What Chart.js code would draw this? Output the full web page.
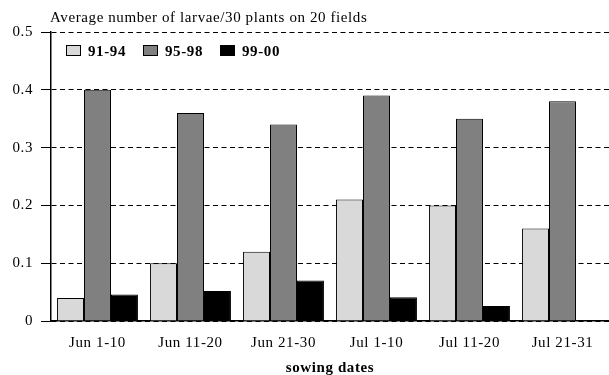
<!DOCTYPE html>
<html>
<head>
<meta charset="utf-8">
<script src="https://cdn.jsdelivr.net/npm/chart.js@4.4.1/dist/chart.umd.min.js"></script>
<style>
  html, body { margin: 0; padding: 0; background: #fff; }
  #wrap { width: 609px; height: 375px; position: relative; }
</style>
</head>
<body>
<div id="wrap"><canvas id="c" width="609" height="375"></canvas></div>
<script>
// Sowing date windows
const categories = ['Jun 1-10', 'Jun 11-20', 'Jun 21-30', 'Jul 1-10', 'Jul 11-20', 'Jul 21-31'];
// Average number of larvae per 30 plants, by period of years
const seriesNames = ['91-94', '95-98', '99-00'];
const values9194 = [0.04, 0.10, 0.12, 0.21, 0.20, 0.16];
const values9598 = [0.40, 0.36, 0.34, 0.39, 0.35, 0.38];
const values9900 = [0.046, 0.052, 0.070, 0.041, 0.026, 0];
const yTicks = [0, 0.1, 0.2, 0.3, 0.4, 0.5];

const chartTitle = 'Average number of larvae/30 plants on 20 fields';
const xTitle = 'sowing dates';
const seriesColors = ['#d9d9d9', '#808080', '#000000'];
const serif = "'Liberation Serif', 'DejaVu Serif', serif";

// Slightly wider text spacing for every label on the canvas
const spacingPlugin = {
  id: 'spacing',
  beforeDraw(chart) { chart.ctx.letterSpacing = '0.6px'; }
};

// Title line and inline legend drawn in the top-left corner
const headerPlugin = {
  id: 'header',
  afterDraw(chart) {
    const ctx = chart.ctx;
    const area = chart.chartArea;
    ctx.save();
    ctx.letterSpacing = '0.6px';
    ctx.fillStyle = '#000';
    ctx.font = '15px ' + serif;
    ctx.textBaseline = 'alphabetic';
    ctx.textAlign = 'left';
    ctx.fillText(chartTitle, area.left - 1, 22);

    ctx.font = 'bold 15px ' + serif;
    let x = area.left + 15;
    const boxY = area.top + 13;
    chart.data.datasets.forEach((ds) => {
      ctx.fillStyle = ds.backgroundColor;
      ctx.fillRect(x + 0.5, boxY + 0.5, 14, 10);
      ctx.strokeStyle = '#000';
      ctx.lineWidth = 1;
      ctx.strokeRect(x + 0.5, boxY + 0.5, 14, 10);
      ctx.fillStyle = '#000';
      ctx.fillText(ds.label, x + 22, boxY + 11);
      x += 22 + ctx.measureText(ds.label).width + 17;
    });
    ctx.restore();
  }
};

const datasets = [values9194, values9598, values9900].map((vals, i) => ({
  label: seriesNames[i],
  data: vals,
  backgroundColor: seriesColors[i],
  borderColor: '#000',
  borderWidth: 1,
  borderSkipped: 'bottom',
  barPercentage: 1.0,
  categoryPercentage: 0.87
}));

new Chart(document.getElementById('c'), {
  type: 'bar',
  data: { labels: categories, datasets },
  plugins: [spacingPlugin, headerPlugin],
  options: {
    responsive: false,
    animation: false,
    devicePixelRatio: 1,
    layout: { padding: { top: 32, right: 0, left: 0, bottom: 0 } },
    plugins: {
      legend: { display: false },
      tooltip: { enabled: false },
      title: { display: false }
    },
    scales: {
      x: {
        grid: { display: false, drawTicks: false },
        border: { display: true, color: '#000', width: 1.5 },
        ticks: {
          color: '#000',
          font: { family: serif, size: 15 },
          padding: 13,
          maxRotation: 0
        },
        title: {
          display: true,
          text: xTitle,
          color: '#000',
          font: { family: serif, size: 15, weight: 'bold' },
          padding: { top: 10, bottom: -2 }
        },
        afterFit(scale) { scale.height = 54; }
      },
      y: {
        min: 0,
        max: 0.5,
        afterBuildTicks(scale) { scale.ticks = yTicks.map(v => ({ value: v })); },
        grid: {
          color: '#000',
          lineWidth: 1,
          drawTicks: true,
          tickLength: 10,
          tickColor: '#000',
          tickBorderDash: []
        },
        border: { display: true, color: '#000', width: 1.5, dash: [5, 3.5] },
        ticks: {
          color: '#000',
          font: { family: serif, size: 15 },
          padding: 8,
          callback: (v) => String(v)
        },
        afterFit(scale) { scale.width = 51; }
      }
    }
  }
});
</script>
</body>
</html>
